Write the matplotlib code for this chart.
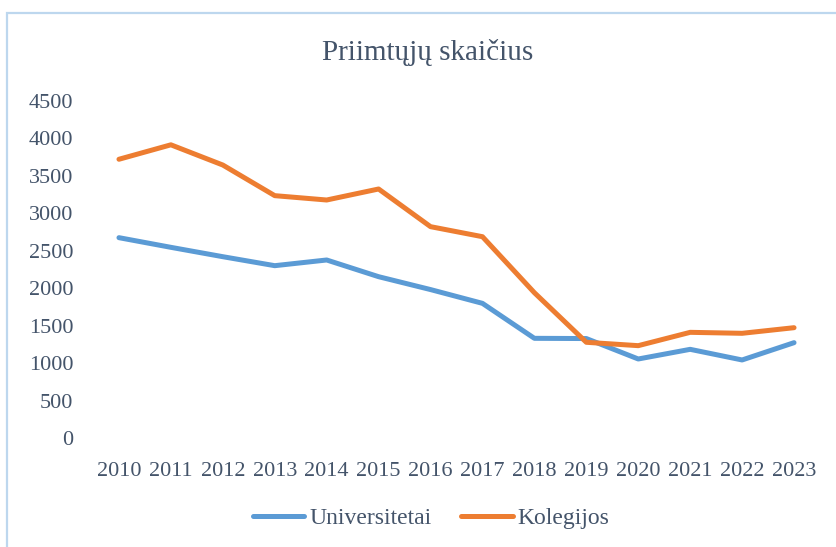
import matplotlib
matplotlib.use("Agg")
import matplotlib.pyplot as plt
from matplotlib.patches import Rectangle
from matplotlib.lines import Line2D

years = ["2010", "2011", "2012", "2013", "2014", "2015", "2016",
         "2017", "2018", "2019", "2020", "2021", "2022", "2023"]
universitetai = [2675, 2546, 2421, 2301, 2377, 2154, 1982,
                 1798, 1331, 1328, 1055, 1184, 1042, 1273]
kolegijos = [3722, 3915, 3645, 3236, 3178, 3325, 2822,
             2688, 1940, 1278, 1233, 1411, 1398, 1473]
y_ticks = [0, 500, 1000, 1500, 2000, 2500, 3000, 3500, 4000, 4500]

text_color = "#44546A"
blue = "#5B9BD5"
orange = "#ED7D31"

plt.rcParams["font.family"] = ["Liberation Serif", "DejaVu Serif"]

W, H = 836, 547
fig = plt.figure(figsize=(W / 100, H / 100), dpi=100)

# chart-area frame
fig.patches.append(Rectangle((7 / W, -0.05), 1.1, 1 - 13 / H + 0.05,
                             transform=fig.transFigure, fill=False,
                             edgecolor="#BDD7EE", linewidth=1.6, zorder=0))

left, right = 93 / W, 820 / W
bottom, top = 1 - 438 / H, 1 - 101 / H
ax = fig.add_axes([left, bottom, right - left, top - bottom])

x = list(range(len(years)))
ax.plot(x, universitetai, color=blue, linewidth=3.6,
        solid_capstyle="round", solid_joinstyle="round", label="Universitetai")
ax.plot(x, kolegijos, color=orange, linewidth=3.6,
        solid_capstyle="round", solid_joinstyle="round", label="Kolegijos")

ax.set_xlim(-0.5, len(years) - 0.5)
ax.set_ylim(0, 4500)
ax.set_xticks(x)
ax.set_xticklabels(years)
ax.set_yticks(y_ticks)
ax.set_yticklabels([str(v) for v in y_ticks])
ax.tick_params(axis="both", length=0, labelsize=16, labelcolor=text_color)
ax.tick_params(axis="x", pad=17)
ax.tick_params(axis="y", pad=14)
for s in ax.spines.values():
    s.set_visible(False)

fig.text(428 / W, 1 - 52 / H, "Priimtųjų skaičius", ha="center", va="center",
         fontsize=21, color=text_color)

handles = [Line2D([], [], color=blue, linewidth=3.6, solid_capstyle="round"),
           Line2D([], [], color=orange, linewidth=3.6, solid_capstyle="round")]
fig.legend(handles, ["Universitetai", "Kolegijos"], loc="center",
           bbox_to_anchor=(431 / W, 1 - 518 / H), ncol=2, frameon=False,
           fontsize=17, labelcolor=text_color, handlelength=2.2,
           handletextpad=0.2, columnspacing=1.25)

fig.savefig("out.png", dpi=100)
